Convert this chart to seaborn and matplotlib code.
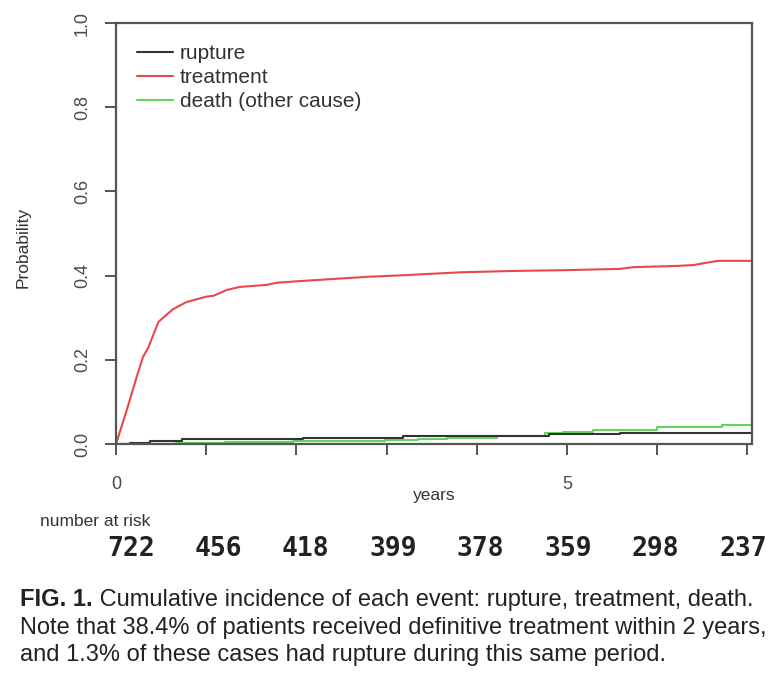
import numpy as np
import pandas as pd
import matplotlib
matplotlib.use("Agg")
import matplotlib.pyplot as plt
import seaborn as sns
from matplotlib.lines import Line2D

# ---- data ----
treat_t = [0, 0.12, 0.23, 0.30, 0.36, 0.47, 0.63, 0.78, 1.0, 1.08, 1.23, 1.37, 1.67, 1.78,
           2.04, 2.41, 2.78, 3.2, 3.65, 3.84, 4.4, 5.0, 5.59, 5.73, 6.22, 6.40, 6.53, 6.67, 7.05]
treat_p = [0, 0.081, 0.16, 0.207, 0.23, 0.29, 0.32, 0.337, 0.35, 0.352, 0.366, 0.373, 0.378, 0.383,
           0.387, 0.392, 0.397, 0.401, 0.406, 0.408, 0.411, 0.413, 0.416, 0.42, 0.423, 0.425, 0.43, 0.435, 0.435]

rupt_t = [0, 0.15, 0.38, 0.73, 2.07, 3.18, 4.0, 4.8, 5.59, 7.05]
rupt_p = [0, 0.003, 0.007, 0.011, 0.015, 0.018, 0.020, 0.024, 0.026, 0.026]

death_t = [0, 0.67, 1.21, 1.96, 2.98, 3.35, 3.67, 4.22, 4.75, 4.96, 5.29, 6.0, 6.72, 7.05]
death_p = [0, 0.003, 0.004, 0.006, 0.0095, 0.0125, 0.015, 0.018, 0.025, 0.028, 0.033, 0.040, 0.044, 0.044]

risk_years = [0, 1, 2, 3, 4, 5, 6, 7]
risk_counts = ["722", "456", "418", "399", "378", "359", "298", "237"]

legend_labels = ["rupture", "treatment", "death (other cause)"]
caption_bold = "FIG. 1."
caption_lines = [" Cumulative incidence of each event: rupture, treatment, death.",
                 "Note that 38.4% of patients received definitive treatment within 2 years,",
                 "and 1.3% of these cases had rupture during this same period."]

# ---- style ----
sns.set_style("white")
plt.rcParams['font.family'] = ['Liberation Sans', 'DejaVu Sans']

c_rupt = "#333333"
c_treat = "#e8474b"
c_death = "#5fd55f"
axc = "#555555"

fig = plt.figure(figsize=(7.84, 6.80), dpi=100)
ax = fig.add_axes([116/784, 1-444/680, (752-116)/784, (444-23)/680])

df_t = pd.DataFrame({"t": treat_t, "p": treat_p})
df_r = pd.DataFrame({"t": rupt_t, "p": rupt_p})
df_d = pd.DataFrame({"t": death_t, "p": death_p})

sns.lineplot(data=df_d, x="t", y="p", ax=ax, color=c_death, lw=1.5,
             drawstyle="steps-post", estimator=None, sort=False)
sns.lineplot(data=df_r, x="t", y="p", ax=ax, color=c_rupt, lw=1.5,
             drawstyle="steps-post", estimator=None, sort=False)
sns.lineplot(data=df_t, x="t", y="p", ax=ax, color=c_treat, lw=1.5,
             estimator=None, sort=False)

ax.set_xlim(0, 7.05)
ax.set_ylim(0, 1.0)
ax.set_xticks(risk_years)
ax.set_xticklabels(["0", "", "", "", "", "5", "", ""])
ax.set_yticks([0, 0.2, 0.4, 0.6, 0.8, 1.0])
ax.set_yticklabels(["0.0", "0.2", "0.4", "0.6", "0.8", "1.0"], rotation=90, va="center")
for s in ax.spines.values():
    s.set_color(axc)
    s.set_linewidth(1.6)
ax.tick_params(axis="both", direction="out", length=8, width=1.4, color=axc,
               labelsize=13, labelcolor="#4a4a4a", bottom=True, left=True)
ax.tick_params(axis="y", pad=10)
ax.tick_params(axis="x", pad=15)
ax.set_xlabel("years", fontsize=12.5, color="#333333")
ax.xaxis.set_label_coords(0.5, -0.105)
ax.set_ylabel("Probability", fontsize=12.5, color="#333333")
ax.yaxis.set_label_coords(-0.135, 0.468)
ax.grid(False)

handles = [Line2D([], [], color=c_rupt, lw=1.5),
           Line2D([], [], color=c_treat, lw=1.5),
           Line2D([], [], color=c_death, lw=1.5)]
leg = ax.legend(handles, legend_labels, loc="upper left", bbox_to_anchor=(0.0, 1.0),
                frameon=False, fontsize=15, handlelength=1.75, handletextpad=0.3,
                labelspacing=0.25, borderaxespad=0.6)
for t in leg.get_texts():
    t.set_color("#333333")

# number at risk
fig.text(40/784, 1-521/680, "number at risk", fontsize=12.5, color="#333333", va="center")
for yr, cnt in zip(risk_years, risk_counts):
    ax.text(0.166 + 0.969 * yr, -0.25, cnt, transform=ax.get_xaxis_transform(),
            ha="center", va="center", fontsize=19, fontweight="bold",
            family="DejaVu Sans Mono", color="#222222", clip_on=False)

# caption
cap_font = ['Liberation Sans']
t0 = fig.text(20/784, 1-600/680, caption_bold, fontsize=17, fontweight="bold",
              family=cap_font, color="#222222", va="center")
fig.canvas.draw()
bb = t0.get_window_extent()
fig.text(bb.x1/784, 1-600/680, caption_lines[0], fontsize=17, family=cap_font,
         color="#222222", va="center")
fig.text(20/784, 1-628/680, caption_lines[1], fontsize=17, family=cap_font,
         color="#222222", va="center")
fig.text(20/784, 1-655/680, caption_lines[2], fontsize=17, family=cap_font,
         color="#222222", va="center")

fig.savefig("out.png", dpi=100)
